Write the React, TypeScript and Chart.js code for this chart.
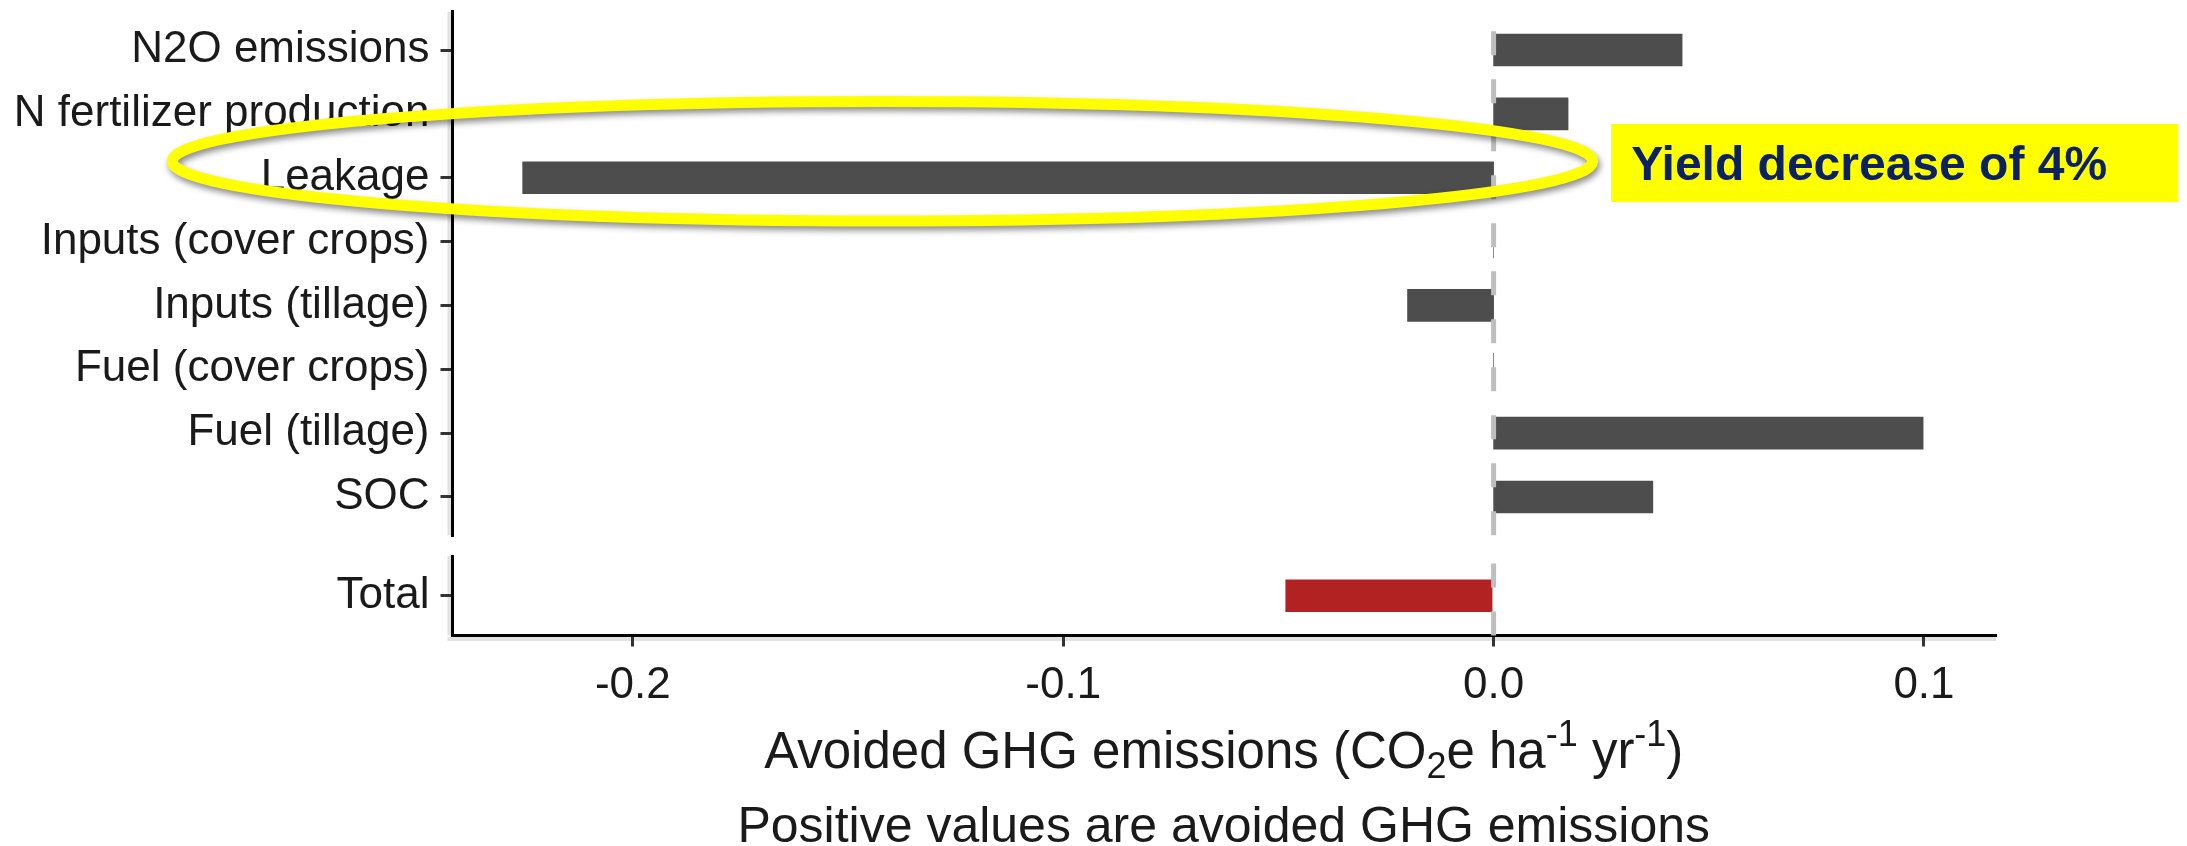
import React, { useEffect, useRef } from "react";
import { Chart, registerables } from "chart.js";

Chart.register(...registerables);

// ---------------- data ----------------
const categories = [
  "N2O emissions",
  "N fertilizer production",
  "Leakage",
  "Inputs (cover crops)",
  "Inputs (tillage)",
  "Fuel (cover crops)",
  "Fuel (tillage)",
  "SOC",
];
const componentValues = [0.0438, 0.0173, -0.2256, 0, -0.02, 0, 0.0998, 0.037];
const totalCategories = ["Total"];
const totalValues = [-0.0483];
const xTickValues = [-0.2, -0.1, 0.0, 0.1];
const xTickLabels = ["-0.2", "-0.1", "0.0", "0.1"];
const xLimits = [-0.2419, 0.1165];
const annotationText = "Yield decrease of 4%";
const subtitleText = "Positive values are avoided GHG emissions";
const titlePieces = [
  { t: "Avoided GHG emissions (CO", s: 0 },
  { t: "2", s: -1 },
  { t: "e ha", s: 0 },
  { t: "-1", s: 1 },
  { t: " yr", s: 0 },
  { t: "-1", s: 1 },
  { t: ")", s: 0 },
];

// ---------------- layout / style ----------------
const W = 2187;
const H = 846;
const TOP_H = 546;
const BOT_H = H - TOP_H;
const AXIS_LEFT = 452.5;
const AXIS_RIGHT = 1995;
const FONT = "'Liberation Sans', Arial, Helvetica, sans-serif";
const TEXT = "#1a1a1a";
const BAR = "#4D4D4D";
const TOTAL_BAR = "#B22222";
const LABEL_SIZE = 44;

// annotation placed in data space (x value, row index)
const ellipseAnno = { xFrom: -0.307, xTo: 0.023, yFrom: 0.806, yTo: 2.677 };
const boxAnno = { xFrom: 0.0273, xTo: 0.1591, yFrom: 1.158, yTo: 2.38, textX: 0.032, textY: 2.035 };

const zeroLinePlugin = {
  id: "zeroLine",
  afterDatasetsDraw(chart: any) {
    const { ctx, chartArea, scales } = chart;
    const x = scales.x.getPixelForValue(0);
    ctx.save();
    ctx.strokeStyle = "#BEBEBE";
    ctx.lineWidth = 5;
    ctx.setLineDash([24, 24]);
    ctx.beginPath();
    ctx.moveTo(x, chartArea.bottom);
    ctx.lineTo(x, chartArea.top);
    ctx.stroke();
    ctx.restore();
  },
};

const axisShadowPlugin = {
  id: "axisShadow",
  beforeDraw(chart: any) {
    const { ctx, chartArea } = chart;
    ctx.save();
    ctx.fillStyle = "#e2e2e2";
    ctx.fillRect(chartArea.left - 5, chartArea.top, 3.5, chartArea.bottom - chartArea.top);
    if (chart.options.scales.x.display) {
      ctx.fillRect(chartArea.left - 5, chartArea.bottom + 1.5, chartArea.right - chartArea.left + 6, 4);
    }
    ctx.restore();
  },
};

const annotationPlugin = {
  id: "annot",
  afterDraw(chart: any) {
    const { ctx, scales } = chart;
    const xs = scales.x;
    const ys = scales.y;
    const x1 = xs.getPixelForValue(ellipseAnno.xFrom);
    const x2 = xs.getPixelForValue(ellipseAnno.xTo);
    const y1 = ys.getPixelForValue(ellipseAnno.yFrom);
    const y2 = ys.getPixelForValue(ellipseAnno.yTo);
    ctx.save();
    ctx.beginPath();
    ctx.ellipse((x1 + x2) / 2, (y1 + y2) / 2, Math.abs(x2 - x1) / 2, Math.abs(y2 - y1) / 2, 0, 0, Math.PI * 2);
    ctx.strokeStyle = "#FFFF00";
    ctx.lineWidth = 11;
    ctx.shadowColor = "rgba(0,0,0,0.45)";
    ctx.shadowBlur = 6;
    ctx.shadowOffsetX = 2;
    ctx.shadowOffsetY = 4;
    ctx.stroke();
    ctx.restore();

    const bx1 = xs.getPixelForValue(boxAnno.xFrom);
    const bx2 = xs.getPixelForValue(boxAnno.xTo);
    const by1 = ys.getPixelForValue(boxAnno.yFrom);
    const by2 = ys.getPixelForValue(boxAnno.yTo);
    ctx.save();
    ctx.fillStyle = "#FFFF00";
    ctx.fillRect(bx1, by1, bx2 - bx1, by2 - by1);
    ctx.fillStyle = "#0B2162";
    ctx.font = `bold 48px ${FONT}`;
    ctx.textAlign = "left";
    ctx.textBaseline = "alphabetic";
    ctx.fillText(annotationText, xs.getPixelForValue(boxAnno.textX), ys.getPixelForValue(boxAnno.textY));
    ctx.restore();
  },
};

const titlePlugin = {
  id: "xTitles",
  afterDraw(chart: any) {
    const { ctx, chartArea } = chart;
    const cx = (chartArea.left + chartArea.right) / 2;
    const base = 51;
    const small = 36;
    ctx.save();
    ctx.fillStyle = TEXT;
    ctx.textBaseline = "alphabetic";
    ctx.textAlign = "left";
    let total = 0;
    const widths = titlePieces.map((p) => {
      ctx.font = `${p.s === 0 ? base : small}px ${FONT}`;
      const w = ctx.measureText(p.t).width;
      total += w;
      return w;
    });
    let x = cx - total / 2;
    const yBase = chartArea.bottom + 132;
    titlePieces.forEach((p, i) => {
      ctx.font = `${p.s === 0 ? base : small}px ${FONT}`;
      const dy = p.s === -1 ? 10 : p.s === 1 ? -22 : 0;
      ctx.fillText(p.t, x, yBase + dy);
      x += widths[i];
    });
    ctx.font = `50px ${FONT}`;
    ctx.textAlign = "center";
    ctx.fillText(subtitleText, cx, chartArea.bottom + 206.5);
    ctx.restore();
  },
};

function xScale(display: boolean, height: number) {
  return {
    type: "linear" as const,
    display,
    position: "bottom" as const,
    min: xLimits[0],
    max: xLimits[1],
    afterBuildTicks: (s: any) => {
      s.ticks = xTickValues.map((v) => ({ value: v }));
    },
    afterFit: (s: any) => {
      s.height = height;
      s.paddingLeft = 0;
      s.paddingRight = 0;
    },
    ticks: {
      callback: (_v: any, i: number) => xTickLabels[i],
      font: { size: LABEL_SIZE, family: FONT },
      color: TEXT,
      padding: 13,
      autoSkip: false,
      maxRotation: 0,
    },
    grid: {
      display: true,
      drawOnChartArea: false,
      drawTicks: true,
      tickLength: 11,
      color: "#333",
      lineWidth: 3,
    },
    border: { display: true, color: "#000", width: 3 },
  };
}

function yScale(labels: string[], min: number, max: number) {
  return {
    type: "linear" as const,
    position: "left" as const,
    min,
    max,
    reverse: true,
    offset: false,
    afterBuildTicks: (s: any) => {
      s.ticks = labels.map((_l, i) => ({ value: i }));
    },
    afterFit: (s: any) => {
      s.width = AXIS_LEFT;
      s.paddingTop = 0;
      s.paddingBottom = 0;
    },
    ticks: {
      callback: (v: any) => labels[v as number],
      font: { size: LABEL_SIZE, family: FONT },
      color: TEXT,
      padding: 11,
      autoSkip: false,
    },
    grid: {
      display: true,
      offset: false,
      drawOnChartArea: false,
      drawTicks: true,
      tickLength: 12,
      color: "#333",
      lineWidth: 3,
    },
    border: { display: true, color: "#000", width: 3 },
  };
}

export default function App() {
  const topRef = useRef<HTMLCanvasElement>(null);
  const botRef = useRef<HTMLCanvasElement>(null);

  useEffect(() => {
    Chart.defaults.font.family = FONT;
    const top = new Chart(topRef.current as HTMLCanvasElement, {
      type: "bar",
      data: {
        datasets: [
          {
            data: componentValues.map((v, i) => ({ x: v, y: i })) as any,
            backgroundColor: BAR,
            borderWidth: 0,
            barThickness: 32,
          },
        ],
      },
      options: {
        indexAxis: "y",
        responsive: false,
        devicePixelRatio: 1,
        animation: false,
        layout: { padding: { top: 11.7, bottom: TOP_H - 535.3, left: 0, right: W - AXIS_RIGHT } },
        plugins: { legend: { display: false }, tooltip: { enabled: false } },
        scales: {
          x: xScale(false, 0) as any,
          y: yScale(categories, -0.6, categories.length - 0.4) as any,
        },
      },
      plugins: [axisShadowPlugin, zeroLinePlugin, annotationPlugin],
    });

    const bottomArea = 635.5 - TOP_H;
    const bot = new Chart(botRef.current as HTMLCanvasElement, {
      type: "bar",
      data: {
        datasets: [
          {
            data: totalValues.map((v, i) => ({ x: v, y: i })) as any,
            backgroundColor: TOTAL_BAR,
            borderWidth: 0,
            barThickness: 32,
          },
        ],
      },
      options: {
        indexAxis: "y",
        responsive: false,
        devicePixelRatio: 1,
        animation: false,
        layout: { padding: { top: 556 - TOP_H, bottom: 0, left: 0, right: W - AXIS_RIGHT } },
        plugins: { legend: { display: false }, tooltip: { enabled: false } },
        scales: {
          x: xScale(true, BOT_H - bottomArea) as any,
          y: yScale(totalCategories, -0.6, 0.6) as any,
        },
      },
      plugins: [axisShadowPlugin, zeroLinePlugin, titlePlugin],
    });

    return () => {
      top.destroy();
      bot.destroy();
    };
  }, []);

  return (
    <div style={{ position: "fixed", left: 0, top: 0, width: W, height: H, background: "#fff", overflow: "hidden" }}>
      <canvas
        ref={topRef}
        width={W}
        height={TOP_H}
        style={{ position: "absolute", left: 0, top: 0, width: W, height: TOP_H }}
      />
      <canvas
        ref={botRef}
        width={W}
        height={BOT_H}
        style={{ position: "absolute", left: 0, top: TOP_H, width: W, height: BOT_H }}
      />
    </div>
  );
}
